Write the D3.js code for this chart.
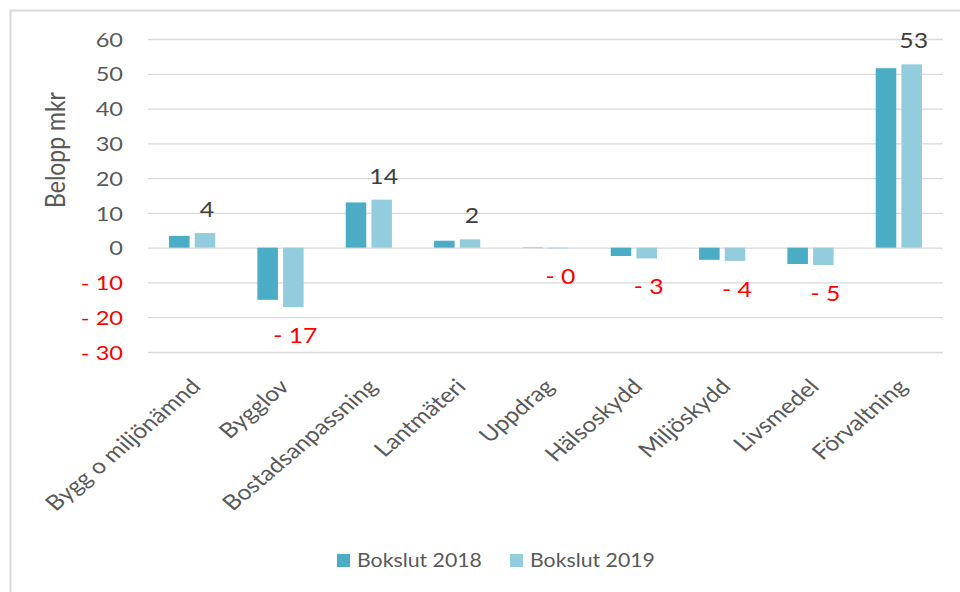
<!DOCTYPE html>
<html>
<head>
<meta charset="utf-8">
<script src="https://cdn.jsdelivr.net/npm/d3@7"></script>
<style>
  html, body { margin: 0; padding: 0; background: #fff; }
  svg { display: block; font-family: Lato, "Open Sans", sans-serif; }
</style>
</head>
<body>
<svg id="chart" width="960" height="592"></svg>
<script>
// Categories, series and tick values
const categories = ["Bygg o miljönämnd", "Bygglov", "Bostadsanpassning", "Lantmäteri",
  "Uppdrag", "Hälsoskydd", "Miljöskydd", "Livsmedel", "Förvaltning"];
const seriesNames = ["Bokslut 2018", "Bokslut 2019"];
const bokslut2018 = [3.4, -15.0, 13.0, 2.0, -0.1, -2.4, -3.5, -4.7, 51.6];
const bokslut2019 = [4.2, -17.1, 13.8, 2.4, -0.2, -3.1, -3.8, -5.0, 52.7];
const yTicks = [-30, -20, -10, 0, 10, 20, 30, 40, 50, 60];
const axisTitle = "Belopp mkr";

const colors = ["#4BACC6", "#93CDDD"];
const SX = 1.18; // horizontal text stretch

const svg = d3.select("#chart");

// outer frame
svg.append("rect")
  .attr("x", 10.5).attr("y", 10.5).attr("width", 1000).attr("height", 1000)
  .attr("fill", "#fff").attr("stroke", "#D9D9D9").attr("stroke-width", 2);

const plot = { left: 148, right: 943, top: 39, bottom: 352 };

const y = d3.scaleLinear().domain([-30, 60]).range([plot.bottom, plot.top]);
const x0 = d3.scaleBand().domain(categories).range([plot.left, plot.right]).padding(0);
const x1 = d3.scaleBand().domain(seriesNames).range([0, x0.bandwidth()])
  .paddingInner(0.2).paddingOuter(0.82);

const fmt = v => {
  const r = Math.round(v);
  return (v < 0) ? "- " + Math.abs(r) : String(r);
};

// gridlines
const grid = svg.append("g").attr("transform", `translate(${plot.left},0)`)
  .call(d3.axisLeft(y).tickValues(yTicks).tickSize(-(plot.right - plot.left)).tickFormat(""));
grid.select(".domain").remove();
grid.selectAll(".tick line").attr("stroke", "#D9D9D9").attr("stroke-width", 1.3);

// y tick labels
const yAxis = svg.append("g").attr("transform", `translate(${plot.left},0)`)
  .call(d3.axisLeft(y).tickValues(yTicks).tickSize(0).tickPadding(0).tickFormat(fmt));
yAxis.select(".domain").remove();
yAxis.selectAll(".tick text")
  .attr("x", -25 / SX)
  .attr("dy", "0.36em")
  .attr("transform", `scale(${SX},1)`)
  .attr("fill", d => d < 0 ? "#FF0000" : "#595959")
  .style("font-size", "20px")
  .style("font-family", "Lato, sans-serif");

// axis title
svg.append("text")
  .attr("transform", `translate(65,150) scale(${SX},1) rotate(-90)`)
  .attr("text-anchor", "middle")
  .attr("fill", "#595959")
  .style("font-size", "23px")
  .text(axisTitle);

// bars
const series = [bokslut2018, bokslut2019];
series.forEach((vals, si) => {
  svg.append("g").selectAll("rect")
    .data(vals.map((v, i) => ({ cat: categories[i], v })))
    .join("rect")
    .attr("x", d => x0(d.cat) + x1(seriesNames[si]))
    .attr("width", x1.bandwidth())
    .attr("y", d => y(Math.max(0, d.v)))
    .attr("height", d => Math.abs(y(d.v) - y(0)))
    .attr("fill", colors[si]);
});

// data labels for the 2019 series
svg.append("g").selectAll("text")
  .data(bokslut2019.map((v, i) => ({ cat: categories[i], v })))
  .join("text")
  .attr("transform", d => {
    const cx = x0(d.cat) + x1("Bokslut 2019") + x1.bandwidth() / 2 + 2;
    const ty = d.v < 0 ? y(d.v) + 36 : y(d.v) - 16;
    return `translate(${cx},${ty}) scale(${SX},1)`;
  })
  .attr("text-anchor", "middle")
  .attr("fill", d => d.v < 0 ? "#FF0000" : "#404040")
  .style("font-size", "21px")
  .text(d => fmt(d.v));

// category labels
const xAxis = svg.append("g").attr("transform", `translate(0,${plot.bottom})`)
  .call(d3.axisBottom(x0).tickSize(0).tickPadding(0));
xAxis.select(".domain").remove();
xAxis.selectAll(".tick text")
  .attr("x", 0).attr("y", 0).attr("dy", 0)
  .attr("transform", `translate(10,36) scale(${SX},1) rotate(-45)`)
  .attr("text-anchor", "end")
  .attr("fill", "#595959")
  .style("font-size", "21px")
  .style("font-family", "Lato, sans-serif");

// legend
const legendX = [337, 510];
const legend = svg.append("g");
seriesNames.forEach((name, i) => {
  legend.append("rect")
    .attr("x", legendX[i]).attr("y", 554).attr("width", 13).attr("height", 13)
    .attr("fill", colors[i]);
  legend.append("text")
    .attr("transform", `translate(${legendX[i] + 20},567) scale(1.12,1)`)
    .attr("fill", "#595959")
    .style("font-size", "19px")
    .text(name);
});
</script>
</body>
</html>
